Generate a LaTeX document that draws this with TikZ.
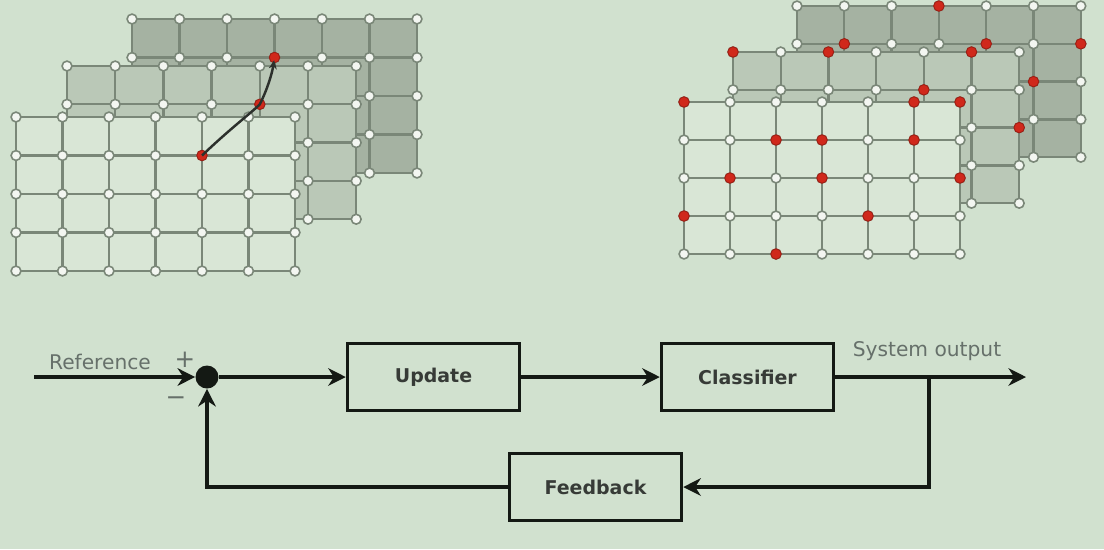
\documentclass[tikz,border=0pt]{standalone}
\usepackage{fontspec}
\setmainfont{DejaVu Sans}
\usetikzlibrary{arrows.meta,calc}
\definecolor{PaperClr}{HTML}{D1E1CF}
\definecolor{LayerA}{HTML}{A5B2A2}
\definecolor{LayerB}{HTML}{BAC8B7}
\definecolor{LayerC}{HTML}{D9E6D6}
\definecolor{GridClr}{HTML}{7A8778}
\definecolor{KnotClr}{HTML}{F3F6F1}
\definecolor{HitClr}{HTML}{D0281B}
\definecolor{LabelClr}{HTML}{66706A}
\definecolor{LineClr}{HTML}{141914}

\tikzset{
  gridline/.style={GridClr,line width=1.3pt},
  knot/.style={fill=KnotClr,draw=GridClr,line width=0.9pt},
  hit/.style={fill=HitClr,draw=HitClr!75!black,line width=0.5pt},
  block/.style={draw=LineClr,line width=2pt,minimum width=3.44cm,minimum height=1.34cm,
    font=\bfseries\fontsize{10.8}{12}\selectfont,text=LineClr!85},
  wire/.style={LineClr,line width=2pt},
  flow/.style={wire,-{Stealth[length=10pt,width=10pt]}},
  tag/.style={text=LabelClr,font=\fontsize{11.5}{13}\selectfont}
}

% one layer: origin x, origin y, cell width, cell height, fill, marked knots (col/row)
\newcommand{\drawlayer}[6]{%
  \fill[#5] (#1,#2) rectangle ++(6*#3,4*#4);
  \foreach \i in {0,...,6} \draw[gridline] (#1+\i*#3,#2) -- ++(0,4*#4);
  \foreach \j in {0,...,4} \draw[gridline] (#1,#2+\j*#4) -- ++(6*#3,0);
  \foreach \i in {0,...,6}
    \foreach \j in {0,...,4}
      \filldraw[knot] (#1+\i*#3,#2+\j*#4) circle (2.8pt);
  \foreach \p/\q in {#6}
    \filldraw[hit] (#1+\p*#3,#2+\q*#4) circle (3pt);
}

\begin{document}
\begin{tikzpicture}[x=0.02cm,y=-0.02cm]
\fill[PaperClr] (0,0) rectangle (1104,549);
\useasboundingbox (0,0) rectangle (1104,549);

% left stack
\drawlayer{132}{19}{47.5}{38.5}{LayerA}{3/1}
\drawlayer{67}{66}{48.2}{38.3}{LayerB}{4/1}
\drawlayer{16}{117}{46.5}{38.5}{LayerC}{4/1}

\coordinate (pf) at (202,155.5);
\coordinate (pm) at (259.8,104.3);
\coordinate (pb) at (274.5,57.5);
\draw[LineClr!90,line width=1.4pt,shorten >=1.5pt,-{Stealth[length=5pt,width=4.5pt]}]
  (pf) .. controls (232,127) and (250,114) .. (pm)
       .. controls (267,90) and (272,74) .. (pb);

% right stack
\drawlayer{797}{6}{47.3}{37.8}{LayerA}{3/0,1/1,4/1,6/1,5/2}
\drawlayer{733}{52}{47.7}{37.8}{LayerB}{0/0,2/0,5/0,4/1,6/2}
\drawlayer{684}{102}{46}{38}{LayerC}{0/0,5/0,6/0,2/1,3/1,5/1,1/2,3/2,6/2,0/3,4/3,2/4}

% control loop
\node[circle,fill=LineClr,inner sep=0pt,minimum size=0.46cm] (sum) at (207,377) {};
\node[block] (update) at (433.5,377) {Update};
\node[block] (classifier) at (747.5,377) {Classifier};
\node[block] (feedback) at (595.5,487) {Feedback};

\coordinate (in) at (34,377);
\coordinate (out) at (1026,377);
\coordinate (split) at (929,377);

\node[tag] (reflabel) at (100,362) {Reference};
\node[tag,font=\fontsize{14}{14}\selectfont] (plus) at (185,360) {+};
\node[tag,font=\fontsize{14}{14}\selectfont] (minus) at (176,401) {−};
\node[tag] (outlabel) at (927,351) {System output};

\draw[flow] (in) -- (sum);
\draw[flow] (sum) -- (update);
\draw[flow] (update) -- (classifier);
\draw[flow] (classifier) -- (out);
\draw[flow] (split) |- (feedback);
\draw[flow] (feedback) -| (sum);
\end{tikzpicture}
\end{document}
